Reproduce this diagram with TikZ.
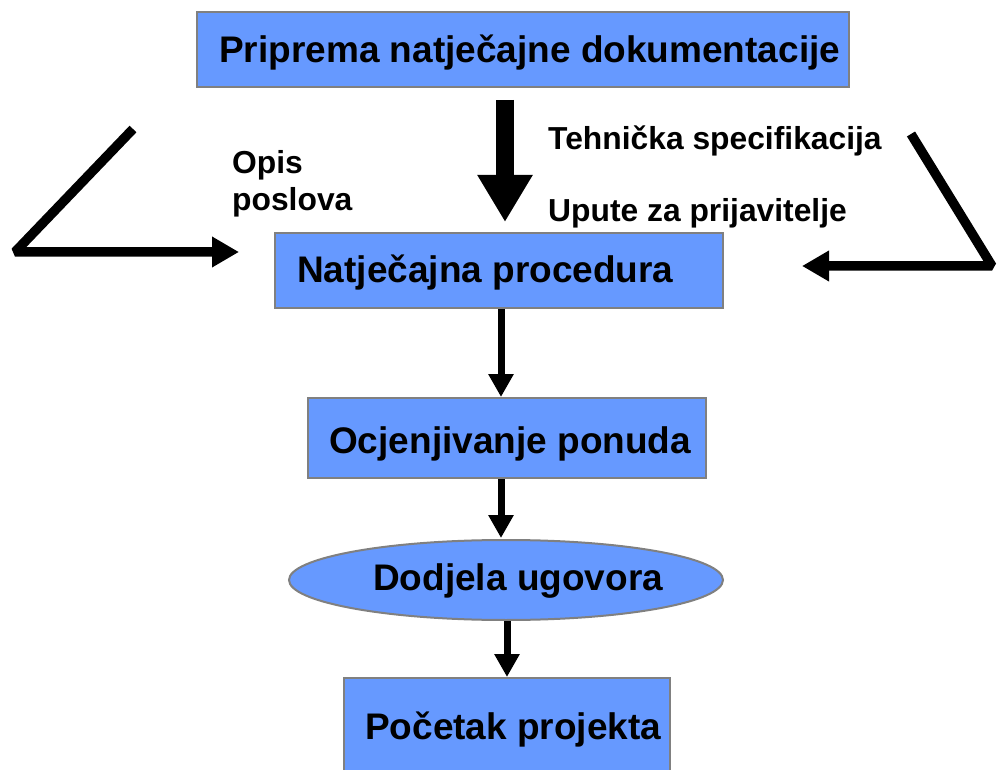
\documentclass[tikz,border=0pt]{standalone}
\usepackage{fontspec}
\setmainfont{Liberation Sans}
\usetikzlibrary{arrows.meta,shapes.geometric}
\definecolor{boxblue}{RGB}{102,153,255}
\definecolor{boxline}{RGB}{128,128,128}
\tikzset{
  box/.style={draw=boxline, line width=2pt, fill=boxblue, inner sep=0pt, rectangle},
  ellbox/.style={draw=boxline, line width=2pt, fill=boxblue, inner sep=0pt, ellipse},
  txt/.style={inner sep=0pt, anchor=base west, font=\fontsize{37}{44}\selectfont\bfseries},
  lbl/.style={inner sep=0pt, anchor=base west, font=\fontsize{31.8}{38}\selectfont\bfseries},
  bigarrow/.style={line width=18pt, -{Triangle[width=52pt,length=47pt]}},
  flowarrow/.style={line width=7pt, -{Triangle[width=24pt,length=23pt]}},
  bentarrow/.style={line width=9.5pt, line join=bevel, -{Triangle[width=29pt,length=27pt]}}
}
\begin{document}
\begin{tikzpicture}[x=1pt,y=-1pt]
\useasboundingbox (0,0) rectangle (997,770);
% boxes
\node[box, minimum width=652pt, minimum height=75pt] (b1) at (523,49.5) {};
\node[txt] (t1) at (219,63) {Priprema natječajne dokumentacije};
\node[box, minimum width=448pt, minimum height=75pt] (b2) at (498.5,270.5) {};
\node[txt] (t2) at (297,283) {Natječajna procedura};
\node[box, minimum width=398pt, minimum height=80pt] (b3) at (507,438) {};
\node[txt] (t3) at (329,453) {Ocjenjivanje ponuda};
\node[ellbox, minimum width=434pt, minimum height=80pt] (e4) at (506,580) {};
\node[txt] (t4) at (373,590) {Dodjela ugovora};
\node[box, minimum width=326pt, minimum height=104pt] (b5) at (507,730) {};
\node[txt] (t5) at (365,739) {Početak projekta};
% labels
\node[lbl] (l1) at (232,174) {Opis};
\node[lbl] (l2) at (232,211) {poslova};
\node[lbl] (l3) at (548,150) {Tehnička specifikacija};
\node[lbl] (l4) at (548,222) {Upute za prijavitelje};
% main big arrow
\coordinate (a1s) at (505,100);
\coordinate (a1e) at (505,222);
\draw[bigarrow] (a1s) -- (a1e);
% flow arrows
\coordinate (x2) at (501,0);
\coordinate (x4) at (507,0);
\draw[flowarrow] (x2 |- b2.south) -- (x2 |- b3.north);
\draw[flowarrow] (x2 |- b3.south) -- ([yshift=1pt]x2 |- e4.north);
\draw[flowarrow] (x4 |- e4.south) -- (x4 |- b5.north);
% bent arrows
\coordinate (L1) at (133,129);
\coordinate (L2) at (15,252);
\coordinate (L3) at (239,252);
\draw[bentarrow] (L1) -- (L2) -- (L3);
\coordinate (R1) at (911,134);
\coordinate (R2) at (992,266);
\coordinate (R3) at (802,266);
\draw[bentarrow] (R1) -- (R2) -- (R3);
\end{tikzpicture}
\end{document}
